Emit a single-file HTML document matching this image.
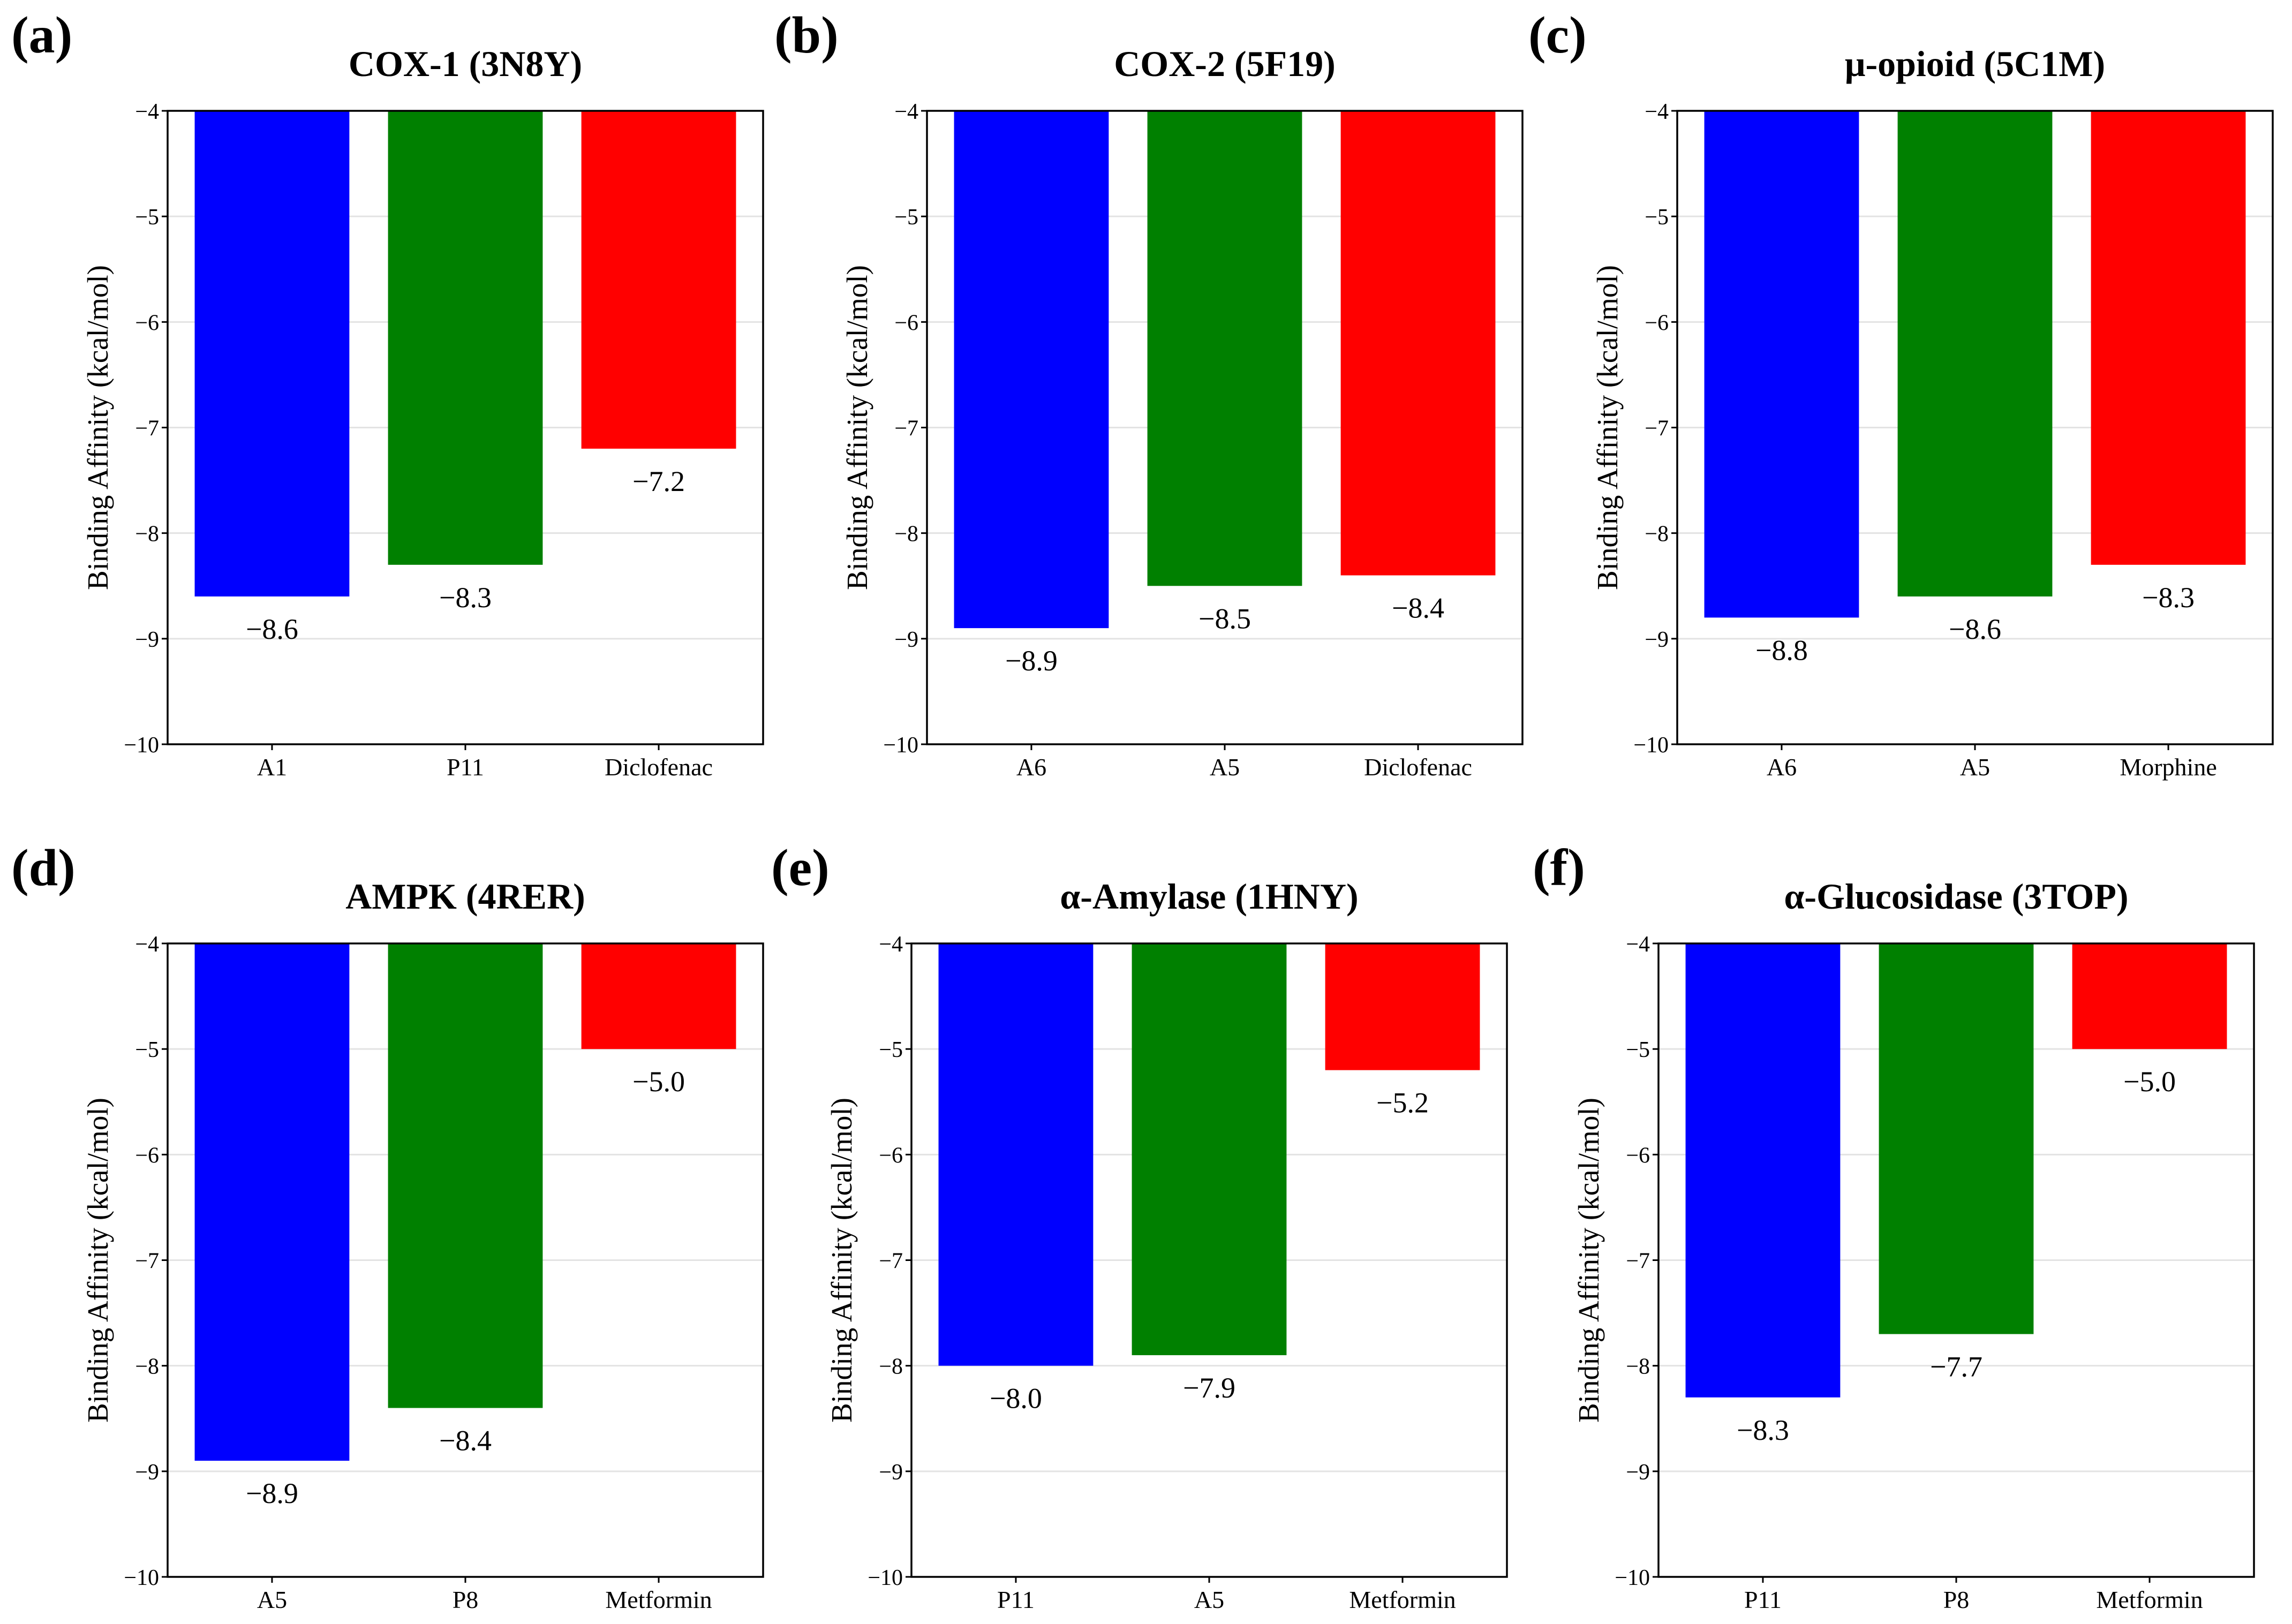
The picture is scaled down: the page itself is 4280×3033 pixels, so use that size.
<!DOCTYPE html>
<html><head><meta charset="utf-8">
<style>
html,body{margin:0;padding:0;background:#fff;}
svg{display:block;}
text{font-family:"Liberation Serif","Times New Roman",serif;fill:#000;}
</style></head>
<body>
<svg id="fig" width="4280" height="3033" viewBox="0 0 4280 3033" xmlns="http://www.w3.org/2000/svg" font-family="Liberation Serif, serif"></svg>
<script>
const panelLetters = ["(a)","(b)","(c)","(d)","(e)","(f)"];
const panelTitles = ["COX-1 (3N8Y)","COX-2 (5F19)","\u03BC-opioid (5C1M)","AMPK (4RER)","\u03B1-Amylase (1HNY)","\u03B1-Glucosidase (3TOP)"];
const catsA = ["A1","P11","Diclofenac"];
const valsA = [-8.6,-8.3,-7.2];
const catsB = ["A6","A5","Diclofenac"];
const valsB = [-8.9,-8.5,-8.4];
const catsC = ["A6","A5","Morphine"];
const valsC = [-8.8,-8.6,-8.3];
const catsD = ["A5","P8","Metformin"];
const valsD = [-8.9,-8.4,-5.0];
const catsE = ["P11","A5","Metformin"];
const valsE = [-8.0,-7.9,-5.2];
const catsF = ["P11","P8","Metformin"];
const valsF = [-8.3,-7.7,-5.0];
const yTicks = [-4,-5,-6,-7,-8,-9,-10];
const barColors = ["#0000ff","#008000","#ff0000"];

const allCats = [catsA,catsB,catsC,catsD,catsE,catsF];
const allVals = [valsA,valsB,valsC,valsD,valsE,valsF];
const NS = "http://www.w3.org/2000/svg";
const svg = document.getElementById("fig");
function mk(tag, attrs, parent){
  const e = document.createElementNS(NS, tag);
  for (const k in attrs) e.setAttribute(k, attrs[k]);
  (parent||svg).appendChild(e);
  return e;
}
function fmt(v){ const s = Math.abs(v).toFixed(1); return (v<0?"\u2212":"")+s; }

const lefts = [313,1731,3132,313,1702,3097];
const tops = [207,207,207,1762,1762,1762];
const letterX = [21,1446,2854,21,1440,2862];
const W = 1112, H = 1183;
const Y0 = -4, Y1 = -10, X0 = -0.54, X1 = 2.54;
const FF = "Liberation Serif, Times New Roman, serif";

for (let p=0;p<6;p++){
  const L = lefts[p], T = tops[p];
  const g = mk("g",{"font-family":FF});
  
  
  const xs = x => L + (x - X0)/(X1 - X0)*W;
  const ys = y => T + (y - Y0)/(Y1 - Y0)*H;

  const lt = mk("text",{x:letterX[p], y:T-109, "font-size":98, "font-weight":"bold"}, g);
  lt.textContent = panelLetters[p];
  
  

  const tt = mk("text",{x:L+W/2, y:T-65, "font-size":68, "font-weight":"bold","text-anchor":"middle"}, g);
  tt.textContent = panelTitles[p];
  
  

  yTicks.forEach(v=>{
    if (v!==Y0 && v!==Y1){
      const gl = mk("line",{x1:L,x2:L+W,y1:ys(v),y2:ys(v),stroke:"#e3e3e3","stroke-width":3}, g);
      
      
    }
  });

  const cats = allCats[p], vals = allVals[p];
  cats.forEach((c,i)=>{
    const x = xs(i-0.4), w = xs(i+0.4)-xs(i-0.4);
    const yb = ys(vals[i]);
    const r = mk("rect",{x:x,y:ys(Y0),width:w,height:yb-ys(Y0),fill:barColors[i]}, g);
    
    
    const vt = mk("text",{x:xs(i), y:yb+79, "font-size":54, "text-anchor":"middle"}, g);
    vt.textContent = fmt(vals[i]);
    
    
    const tk = mk("line",{x1:xs(i),x2:xs(i),y1:T+H,y2:T+H+11,stroke:"#000","stroke-width":3}, g);
    
    
    const xl = mk("text",{x:xs(i), y:T+H+58, "font-size":46, "text-anchor":"middle"}, g);
    xl.textContent = c;
    
    
  });

  yTicks.forEach(v=>{
    const tk = mk("line",{x1:L-11,x2:L,y1:ys(v),y2:ys(v),stroke:"#000","stroke-width":3}, g);
    
    
    const tl = mk("text",{x:L-16, y:ys(v)+15, "font-size":42, "text-anchor":"end"}, g);
    tl.textContent = fmt(v).replace(".0","");
    
    
  });

  const fr = mk("rect",{x:L,y:T,width:W,height:H,fill:"none",stroke:"#000","stroke-width":3.5}, g);
  
  

  const yl = mk("text",{x:0,y:0,"font-size":55,"text-anchor":"middle",transform:"translate("+(L-112)+","+(T+H/2)+") rotate(-90)"}, g);
  yl.textContent = "Binding Affinity (kcal/mol)";
  
  
}
</script>
</body></html>
